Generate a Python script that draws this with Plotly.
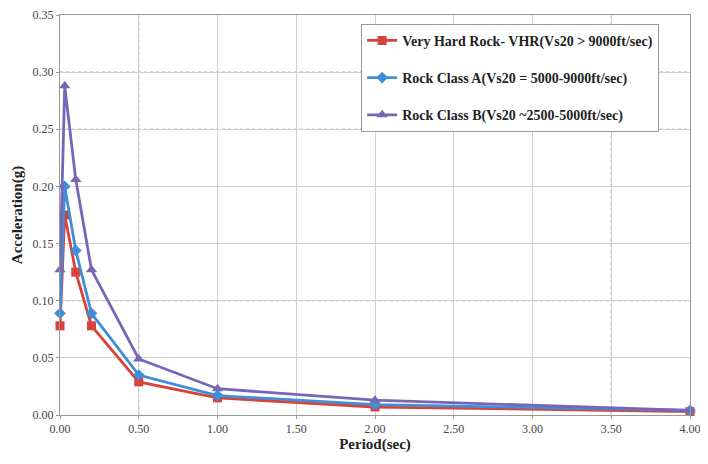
import plotly.graph_objects as go

period = [0.0, 0.03, 0.1, 0.2, 0.5, 1.0, 2.0, 4.0]
vhr = [0.078, 0.175, 0.125, 0.078, 0.029, 0.015, 0.007, 0.003]
rock_a = [0.089, 0.200, 0.144, 0.089, 0.035, 0.017, 0.009, 0.004]
rock_b = [0.127, 0.288, 0.206, 0.127, 0.049, 0.023, 0.013, 0.004]

names = ["Very Hard Rock- VHR(Vs20 > 9000ft/sec)",
         "Rock Class A(Vs20 = 5000-9000ft/sec)",
         "Rock Class B(Vs20 ~2500-5000ft/sec)"]
xticks = [0, 0.5, 1.0, 1.5, 2.0, 2.5, 3.0, 3.5, 4.0]
yticks = [0, 0.05, 0.10, 0.15, 0.20, 0.25, 0.30, 0.35]

font = "Liberation Serif"
fig = go.Figure()
styles = [
    (vhr, "#d8423a", "square", 9),
    (rock_a, "#3f8fd6", "diamond", 9),
    (rock_b, "#7566b6", "triangle-up", 10),
]
for i, ((vals, col, sym, sz), nm) in enumerate(zip(styles, names)):
    fig.add_trace(go.Scatter(x=period, y=vals, mode="lines+markers", name=nm,
                             legendgroup=f"g{i}", cliponaxis=False,
                             line=dict(color=col, width=2.8),
                             marker=dict(symbol=sym, size=sz, color=col)))

# darker dotted gridlines seen in reference
for xv in [0.5, 3.0, 3.5]:
    fig.add_shape(type="line", x0=xv, x1=xv, y0=0, y1=0.35, xref="x", yref="y",
                  line=dict(color="#888888", width=1, dash="dot"), layer="below")
for yv in [0.10, 0.25, 0.30]:
    fig.add_shape(type="line", x0=0, x1=4, y0=yv, y1=yv, xref="x", yref="y",
                  line=dict(color="#888888", width=1, dash="dot"), layer="below")

fig.update_layout(
    width=692, height=448,
    margin=dict(l=52, r=10, t=7, b=41),
    paper_bgcolor="white", plot_bgcolor="white",
    font=dict(family=font, size=12, color="#444444"),
    showlegend=True,
    legend=dict(x=0.478, y=0.978, xanchor="left", yanchor="top",
                bgcolor="white", bordercolor="#999999", borderwidth=1,
                font=dict(family=font, size=14, color="#222222", weight="bold"),
                tracegroupgap=16, itemwidth=30),
)
fig.update_xaxes(range=[0, 4], tickvals=xticks,
                 ticktext=[f"{v:.2f}" for v in xticks],
                 showgrid=True, gridcolor="#d0d0d0", gridwidth=1,
                 showline=True, linecolor="#999999", mirror=True,
                 ticks="outside", ticklen=3, tickcolor="#999999",
                 zeroline=False, automargin=False, ticklabeloverflow="allow",
                 title=dict(text="<b>Period(sec)</b>", font=dict(family=font, size=15, color="#222222"), standoff=3))
fig.update_yaxes(range=[0, 0.35], tickvals=yticks,
                 ticktext=[f"{v:.2f}" for v in yticks],
                 showgrid=True, gridcolor="#d0d0d0", gridwidth=1,
                 showline=True, linecolor="#999999", mirror=True,
                 ticks="outside", ticklen=3, tickcolor="#999999",
                 zeroline=False, automargin=False, ticklabeloverflow="allow",
                 title=dict(text="<b>Acceleration(g)</b>", font=dict(family=font, size=15, color="#222222"), standoff=6))

fig.write_html("out.html")
